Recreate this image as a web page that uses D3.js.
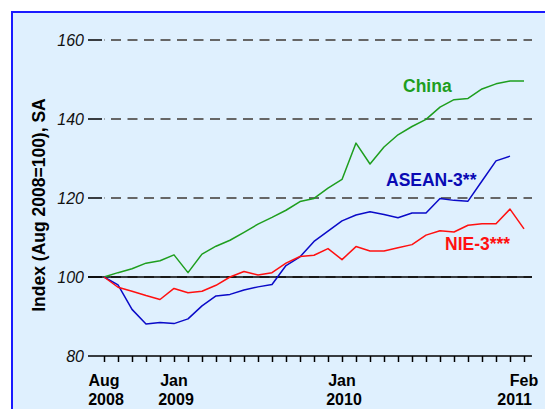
<!DOCTYPE html>
<html>
<head>
<meta charset="utf-8">
<script src="https://cdn.jsdelivr.net/npm/d3@7"></script>
<style>
html,body{margin:0;padding:0;background:#fff;}
svg{display:block;}
text{font-family:"Liberation Sans",Arial,sans-serif;}
</style>
</head>
<body>
<svg id="chart" width="545" height="409"></svg>
<script>
const months = ["Aug 2008","Sep 2008","Oct 2008","Nov 2008","Dec 2008","Jan 2009","Feb 2009","Mar 2009","Apr 2009","May 2009","Jun 2009","Jul 2009","Aug 2009","Sep 2009","Oct 2009","Nov 2009","Dec 2009","Jan 2010","Feb 2010","Mar 2010","Apr 2010","May 2010","Jun 2010","Jul 2010","Aug 2010","Sep 2010","Oct 2010","Nov 2010","Dec 2010","Jan 2011","Feb 2011"];
const china = [100,101.1,102.1,103.5,104.1,105.6,101.1,105.8,107.8,109.3,111.3,113.4,115.1,116.9,119.1,119.9,122.5,124.7,133.9,128.6,132.9,136.0,138.1,139.9,143.0,144.9,145.2,147.6,148.9,149.6,149.6];
const asean = [100,98.0,91.8,88.1,88.5,88.2,89.4,92.7,95.2,95.6,96.7,97.5,98.1,102.9,105.1,109.0,111.6,114.2,115.7,116.5,115.8,115.0,116.2,116.2,119.9,119.4,119.2,124.3,129.4,130.6];
const nie = [100,97.4,96.4,95.3,94.3,97.1,96.0,96.4,97.9,100.0,101.4,100.5,101.1,103.5,105.2,105.5,107.2,104.4,107.7,106.6,106.6,107.4,108.2,110.6,111.7,111.4,113.1,113.5,113.5,117.2,112.2];
const yTicks = [80,100,120,140,160];
const xLabels = [["Aug 2008","Aug","2008"],["Jan 2009","Jan","2009"],["Jan 2010","Jan","2010"],["Feb 2011","Feb","2011"]];
const seriesNames = ["China","ASEAN-3**","NIE-3***"];

const svg = d3.select("#chart");
// background panel with blue frame
svg.append("rect").attr("x",12).attr("y",12).attr("width",560).attr("height",420)
  .attr("fill","#dff0fe").attr("stroke","#1a1aff").attr("stroke-width",2);

const x = d3.scalePoint().domain(months).range([104,524]);
const y = d3.scaleLinear().domain([80,160]).range([356,40]);
const xLeft = 88, xRight = 532;

// gridlines (dashed) for 100..160
const grid = svg.append("g");
yTicks.filter(v=>v>80).forEach(v=>{
  grid.append("line").attr("x1",104).attr("x2",xRight).attr("y1",y(v)).attr("y2",y(v))
    .attr("stroke","#666").attr("stroke-width",2).attr("stroke-dasharray","10,6.5").attr("stroke-dashoffset",-7);
  grid.append("line").attr("x1",xLeft).attr("x2",102).attr("y1",y(v)).attr("y2",y(v))
    .attr("stroke","#000").attr("stroke-width",1.5);
});
// solid 100 line
svg.append("line").attr("x1",xLeft).attr("x2",xRight).attr("y1",y(100)).attr("y2",y(100))
  .attr("stroke","#000").attr("stroke-width",1.6);

// y labels
svg.append("g").selectAll("text").data(yTicks).join("text")
  .attr("x",84).attr("y",d=>y(d)+6).attr("text-anchor","end")
  .attr("font-size",16).attr("font-style","italic").attr("fill","#111")
  .text(d=>d);

// x axis at 80
const xAxis = d3.axisBottom(x).tickSize(6).tickSizeOuter(0).tickFormat("");
const gx = svg.append("g").attr("transform",`translate(0,${y(80)})`).call(xAxis);
gx.select(".domain").remove();
gx.selectAll(".tick line").attr("stroke","#000").attr("stroke-width",1.5);
svg.append("line").attr("x1",xLeft).attr("x2",xRight).attr("y1",y(80)).attr("y2",y(80))
  .attr("stroke","#000").attr("stroke-width",1.6);

// x labels
const xl = svg.append("g").attr("font-weight","bold").attr("font-size",16).attr("fill","#000");
xLabels.forEach(([m,a,b],i)=>{
  const cx = x(m);
  const last = i===xLabels.length-1;
  xl.append("text").attr("x",cx).attr("y",386).attr("text-anchor","middle").text(a);
  xl.append("text").attr("x",last?532:cx+2).attr("y",405).attr("text-anchor",last?"end":"middle").text(b);
});

// y axis title
svg.append("text").attr("transform","translate(45,205) rotate(-90)")
  .attr("text-anchor","middle").attr("font-weight","bold").attr("font-size",17.5).attr("fill","#000")
  .text("Index (Aug 2008=100), SA");

// lines
const line = d3.line().x((d,i)=>x(months[i])).y(d=>y(d));
const series = [[china,"#1e9e1e"],[asean,"#0a0ac8"],[nie,"#ff1010"]];
series.forEach(([vals,c])=>{
  svg.append("path").datum(vals).attr("d",line).attr("fill","none")
    .attr("stroke",c).attr("stroke-width",1.5).attr("stroke-linejoin","round");
});

// labels
const lab = [[seriesNames[0],403,92,"#1e9e1e"],[seriesNames[1],386,186,"#0a0ab4"],[seriesNames[2],445,250,"#ff1010"]];
lab.forEach(([t,lx,ly,c])=>{
  svg.append("text").attr("x",lx).attr("y",ly).attr("font-weight","bold").attr("font-size",17.5)
    .attr("fill",c).text(t);
});
</script>
</body>
</html>
